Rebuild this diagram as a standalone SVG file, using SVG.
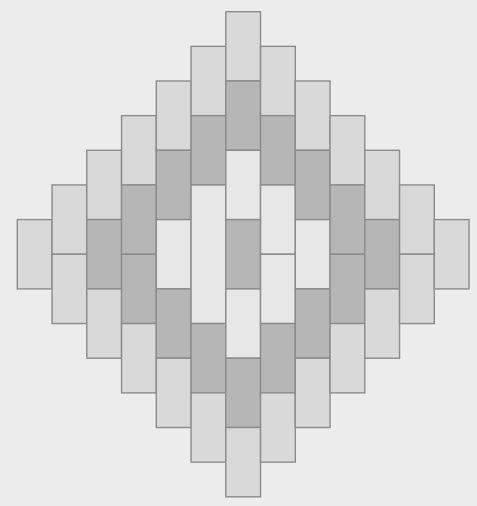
<svg xmlns="http://www.w3.org/2000/svg" width="477" height="506" viewBox="0 0 477 506">
<style>
rect.t{stroke:#8c8c8c;stroke-width:1.4}
.L{fill:#d9d9d9}
.D{fill:#b6b6b6}
.W{fill:#e7e7e7}
</style>
<rect width="477" height="506" fill="#ececec"/>
<g id="tiles">
<!-- col 0 -->
<rect class="t L" x="17.3" y="219.6" width="34.75" height="69.3"/>
<!-- col 1 -->
<rect class="t L" x="52.05" y="184.95" width="34.75" height="69.3"/>
<rect class="t L" x="52.05" y="254.25" width="34.75" height="69.3"/>
<!-- col 2 -->
<rect class="t L" x="86.8" y="150.3" width="34.75" height="69.3"/>
<rect class="t D" x="86.8" y="219.6" width="34.75" height="69.3"/>
<rect class="t L" x="86.8" y="288.9" width="34.75" height="69.3"/>
<!-- col 3 -->
<rect class="t L" x="121.55" y="115.65" width="34.75" height="69.3"/>
<rect class="t D" x="121.55" y="184.95" width="34.75" height="69.3"/>
<rect class="t D" x="121.55" y="254.25" width="34.75" height="69.3"/>
<rect class="t L" x="121.55" y="323.55" width="34.75" height="69.3"/>
<!-- col 4 -->
<rect class="t L" x="156.3" y="81" width="34.75" height="69.3"/>
<rect class="t D" x="156.3" y="150.3" width="34.75" height="69.3"/>
<rect class="t W" x="156.3" y="219.6" width="34.75" height="69.3"/>
<rect class="t D" x="156.3" y="288.9" width="34.75" height="69.3"/>
<rect class="t L" x="156.3" y="358.2" width="34.75" height="69.3"/>
<!-- col 5 -->
<rect class="t L" x="191.05" y="46.35" width="34.75" height="69.3"/>
<rect class="t D" x="191.05" y="115.65" width="34.75" height="69.3"/>
<rect class="t W" x="191.05" y="184.95" width="34.75" height="138.6"/>
<rect class="t D" x="191.05" y="323.55" width="34.75" height="69.3"/>
<rect class="t L" x="191.05" y="392.85" width="34.75" height="69.3"/>
<!-- col 6 -->
<rect class="t L" x="225.8" y="11.7" width="34.75" height="69.3"/>
<rect class="t D" x="225.8" y="81" width="34.75" height="69.3"/>
<rect class="t W" x="225.8" y="150.3" width="34.75" height="69.3"/>
<rect class="t D" x="225.8" y="219.6" width="34.75" height="69.3"/>
<rect class="t W" x="225.8" y="288.9" width="34.75" height="69.3"/>
<rect class="t D" x="225.8" y="358.2" width="34.75" height="69.3"/>
<rect class="t L" x="225.8" y="427.5" width="34.75" height="69.3"/>
<!-- col 7 -->
<rect class="t L" x="260.55" y="46.35" width="34.75" height="69.3"/>
<rect class="t D" x="260.55" y="115.65" width="34.75" height="69.3"/>
<rect class="t W" x="260.55" y="184.95" width="34.75" height="69.3"/>
<rect class="t W" x="260.55" y="254.25" width="34.75" height="69.3"/>
<rect class="t D" x="260.55" y="323.55" width="34.75" height="69.3"/>
<rect class="t L" x="260.55" y="392.85" width="34.75" height="69.3"/>
<!-- col 8 -->
<rect class="t L" x="295.3" y="81" width="34.75" height="69.3"/>
<rect class="t D" x="295.3" y="150.3" width="34.75" height="69.3"/>
<rect class="t W" x="295.3" y="219.6" width="34.75" height="69.3"/>
<rect class="t D" x="295.3" y="288.9" width="34.75" height="69.3"/>
<rect class="t L" x="295.3" y="358.2" width="34.75" height="69.3"/>
<!-- col 9 -->
<rect class="t L" x="330.05" y="115.65" width="34.75" height="69.3"/>
<rect class="t D" x="330.05" y="184.95" width="34.75" height="69.3"/>
<rect class="t D" x="330.05" y="254.25" width="34.75" height="69.3"/>
<rect class="t L" x="330.05" y="323.55" width="34.75" height="69.3"/>
<!-- col 10 -->
<rect class="t L" x="364.8" y="150.3" width="34.75" height="69.3"/>
<rect class="t D" x="364.8" y="219.6" width="34.75" height="69.3"/>
<rect class="t L" x="364.8" y="288.9" width="34.75" height="69.3"/>
<!-- col 11 -->
<rect class="t L" x="399.55" y="184.95" width="34.75" height="69.3"/>
<rect class="t L" x="399.55" y="254.25" width="34.75" height="69.3"/>
<!-- col 12 -->
<rect class="t L" x="434.3" y="219.6" width="34.75" height="69.3"/>
</g>
</svg>
